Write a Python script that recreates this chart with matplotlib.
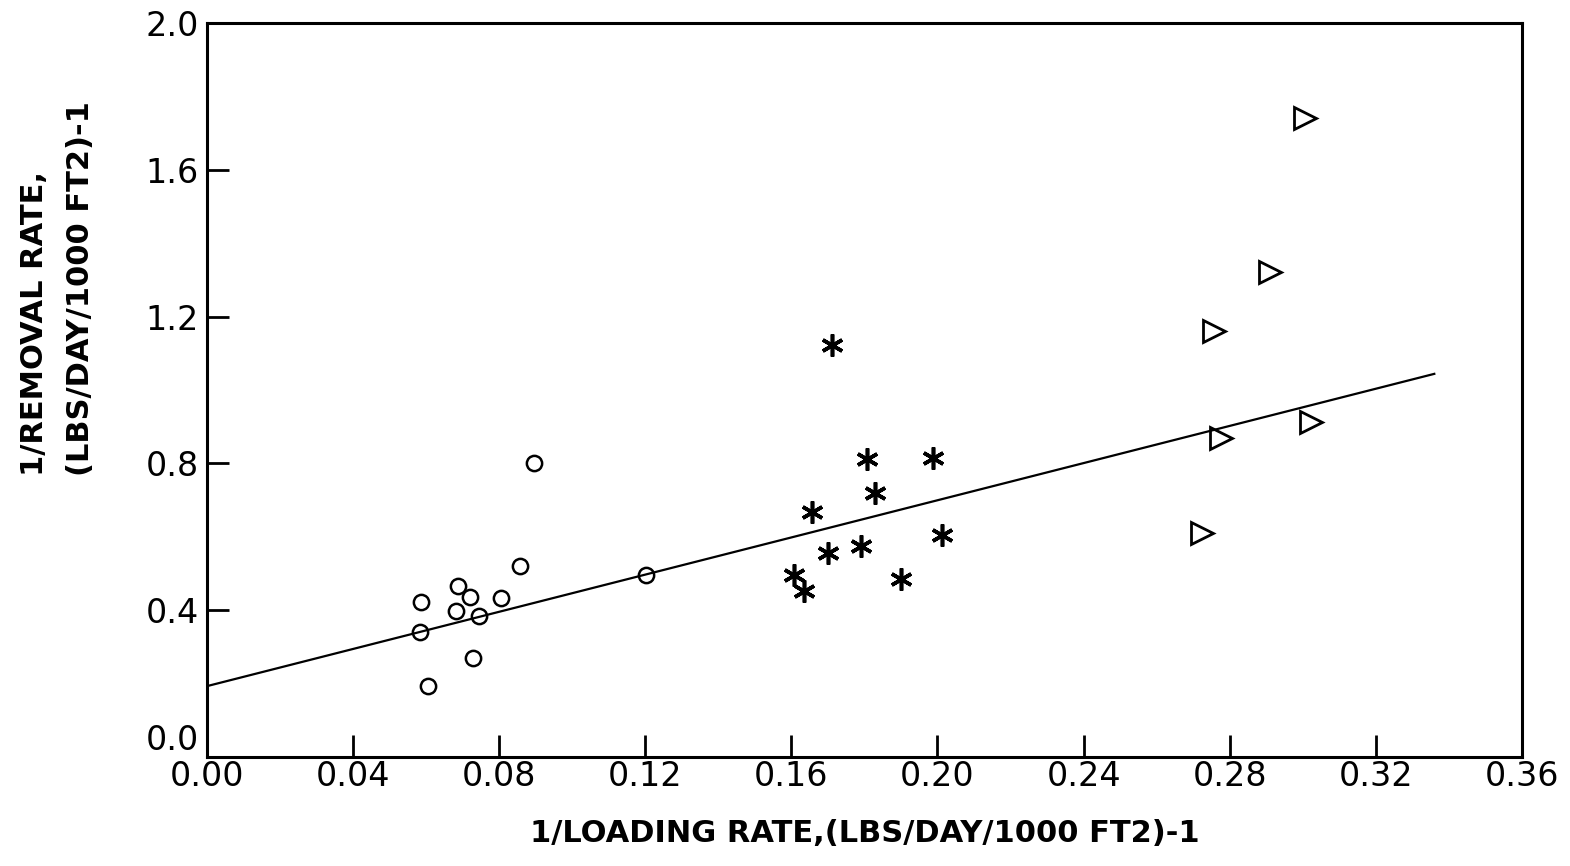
import matplotlib
matplotlib.use("Agg")
import matplotlib.pyplot as plt

# datos
circ_x = [0.0896, 0.0858, 0.0687, 0.0585, 0.0721, 0.0805, 0.0682, 0.0744, 0.0582, 0.1202, 0.0728, 0.0606]
circ_y = [0.802, 0.521, 0.467, 0.423, 0.437, 0.434, 0.397, 0.384, 0.340, 0.496, 0.269, 0.193]

ast_x = [0.1711, 0.1807, 0.1987, 0.1830, 0.1657, 0.2011, 0.1700, 0.1791, 0.1608, 0.1634, 0.1899]
ast_y = [1.123, 0.811, 0.816, 0.720, 0.667, 0.605, 0.555, 0.575, 0.496, 0.452, 0.484]

tri_x = [0.3005, 0.2911, 0.2757, 0.2775, 0.3022, 0.2725]
tri_y = [1.740, 1.322, 1.162, 0.868, 0.914, 0.610]

# recta de ajuste
line_x = [0.0, 0.336]
line_y = [0.193, 1.044]

x_ticks = [0.00, 0.04, 0.08, 0.12, 0.16, 0.20, 0.24, 0.28, 0.32, 0.36]
x_labels = ["0.00", "0.04", "0.08", "0.12", "0.16", "0.20", "0.24", "0.28", "0.32", "0.36"]
y_ticks = [0.0, 0.4, 0.8, 1.2, 1.6, 2.0]
y_labels = ["0.0", "0.4", "0.8", "1.2", "1.6", "2.0"]

##grafica
fig = plt.figure(figsize=(15.7, 8.66), dpi=100)
ax = fig.add_axes([0.1318, 0.1259, 0.9694 - 0.1318, 0.9734 - 0.1259])

ax.plot(line_x, line_y, color="black", lw=1.6)
ax.plot(circ_x, circ_y, "o", ms=11, mfc="none", mec="black", mew=1.8, ls="none")
ax.plot(ast_x, ast_y, marker=(6, 2, 0), ms=16, mec="black", mew=2.6, ls="none")
ax.plot(tri_x, tri_y, ">", ms=16, mfc="none", mec="black", mew=2.0, ls="none")

ax.set_xlim(0, 0.36)
ax.set_ylim(0, 2.0)
ax.set_xticks(x_ticks)
ax.set_xticklabels(x_labels)
ax.set_yticks(y_ticks)
ax.set_yticklabels(y_labels)
ax.tick_params(direction="in", length=16, width=2, labelsize=24, color="black")
ax.tick_params(axis="x", pad=2)
ax.tick_params(axis="y", pad=6)
for s in ax.spines.values():
    s.set_linewidth(2.2)

# el 0.0 queda un poco por encima del eje, como en el original
ax.get_yticklabels()[0].set_va("bottom")

fig.text(0.551, 0.038, "1/LOADING RATE,(LBS/DAY/1000 FT2)-1", ha="center", va="center",
         fontsize=22, fontweight="bold")
fig.text(0.022, 0.627, "1/REMOVAL RATE,", rotation=90, ha="center", va="center",
         fontsize=22, fontweight="bold")
fig.text(0.051, 0.667, "(LBS/DAY/1000 FT2)-1", rotation=90, ha="center", va="center",
         fontsize=22, fontweight="bold")

fig.savefig("out.png", dpi=100)
##fin grafica
